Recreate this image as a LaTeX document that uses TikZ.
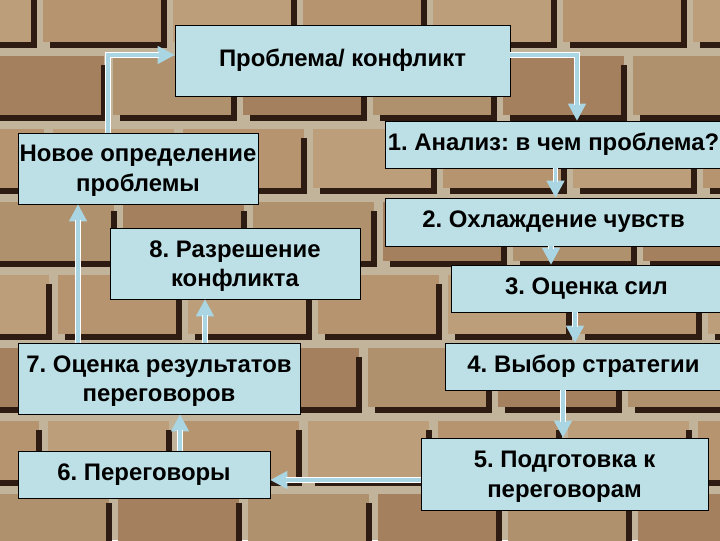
\documentclass[tikz,border=0pt]{standalone}
\usepackage{fontspec}
\setmainfont{Liberation Sans}
\usetikzlibrary{arrows.meta}

\definecolor{boxblue}{HTML}{BCE0E6}
\definecolor{headblue}{HTML}{A9D6E2}
\definecolor{mortar}{HTML}{C2B49A}
\definecolor{shadow}{HTML}{2E1C12}
\definecolor{brick0}{HTML}{B0916E}
\definecolor{brick1}{HTML}{BC9E7B}
\definecolor{brick2}{HTML}{A4805F}
\definecolor{brick3}{HTML}{B5946F}

\tikzset{
  stage/.style={draw=black, line width=0.6pt, fill=boxblue, align=center, inner sep=0pt,
    font=\bfseries\fontsize{17}{21}\selectfont},
  twoline/.style={stage, text depth=-2pt},
  flow/.style={headblue, line width=4pt, -{Triangle[length=12pt,width=13pt,line width=0pt]},
    postaction={draw=white, line width=0.8pt, double=headblue, double distance=2.2pt,
      shorten >=11pt, -}}
}

\begin{document}
\frenchspacing
\begin{tikzpicture}[x=0.025cm, y=-0.025cm]
	% Wall:
	\useasboundingbox (0,0) rectangle (720,540);
	\clip (0,0) rectangle (720,540);
	\fill[mortar] (0,0) rectangle (720,540);
	\foreach \r/\shift in {0/0,1/-60,2/10,3/-50,4/15,5/-65,6/5,7/-55}{
		\foreach \c in {-1,...,5}{
			\pgfmathsetmacro\bx{\c*130+\shift+40}
			\pgfmathsetmacro\by{\r*73-20}
			\pgfmathtruncatemacro\tone{mod(\r*3+\c*2+7,4)}
			\fill[brick\tone] (\bx+3,\by+3) rectangle (\bx+124,\by+62);
			\fill[shadow] (\bx+10,\by+62) rectangle (\bx+127,\by+68);
			\fill[shadow] (\bx+121,\by+12) rectangle (\bx+127,\by+68);
		}
	}
	% Boxes:
	\node[stage, minimum width=335*0.025cm, minimum height=71*0.025cm] (problem) at (342.5, 60.5) {Проблема/ конфликт};
	\node[twoline, minimum width=240*0.025cm, minimum height=71*0.025cm] (newdef) at (138, 168.5) {Новое определение\\проблемы};
	\node[stage, minimum width=337*0.025cm, minimum height=47*0.025cm] (analysis) at (553.5, 144.5) {1. Анализ: в чем проблема?};
	\node[stage, minimum width=337*0.025cm, minimum height=48*0.025cm] (cooling) at (553.5, 222) {2. Охлаждение чувств};
	\node[stage, minimum width=271*0.025cm, minimum height=47*0.025cm] (forces) at (586.5, 288.5) {3. Оценка сил};
	\node[stage, minimum width=277*0.025cm, minimum height=47*0.025cm] (strategy) at (583.5, 366.5) {4. Выбор стратегии};
	\node[twoline, minimum width=287*0.025cm, minimum height=72*0.025cm] (prepare) at (564.5, 474) {5. Подготовка к\\переговорам};
	\node[stage, minimum width=252*0.025cm, minimum height=47*0.025cm] (talks) at (144, 474.5) {6. Переговоры};
	\node[twoline, minimum width=282*0.025cm, minimum height=71*0.025cm] (results) at (159, 378.5) {7. Оценка результатов\\переговоров};
	\node[twoline, minimum width=250*0.025cm, minimum height=71*0.025cm] (resolve) at (235, 263.5) {8. Разрешение\\конфликта};
	% Bends and guides:
	\coordinate (k1) at (108, 55);
	\coordinate (k2) at (577, 55);
	\coordinate (k3) at (551, 0);
	\coordinate (k4) at (575, 0);
	\coordinate (k5) at (563, 0);
	\coordinate (k6) at (0, 480);
	\coordinate (k7) at (180, 0);
	\coordinate (k8) at (205, 0);
	\coordinate (k9) at (78, 0);
	% Arrows:
	\draw[flow] (newdef.north -| k1) |- (problem.west |- k1);
	\draw[flow] (problem.east |- k2) -| (analysis.north -| k2);
	\draw[flow] ([xshift=2*0.025cm]analysis.south) -- ([xshift=2*0.025cm]cooling.north);
	\draw[flow] (cooling.south -| k3) -- (forces.north -| k3);
	\draw[flow] (forces.south -| k4) -- (strategy.north -| k4);
	\draw[flow] (strategy.south -| k5) -- (prepare.north -| k5);
	\draw[flow] (prepare.west |- k6) -- (talks.east |- k6);
	\draw[flow] (talks.north -| k7) -- (results.south -| k7);
	\draw[flow] (results.north -| k8) -- (resolve.south -| k8);
	\draw[flow] (results.north -| k9) -- (newdef.south -| k9);
\end{tikzpicture}
\end{document}
